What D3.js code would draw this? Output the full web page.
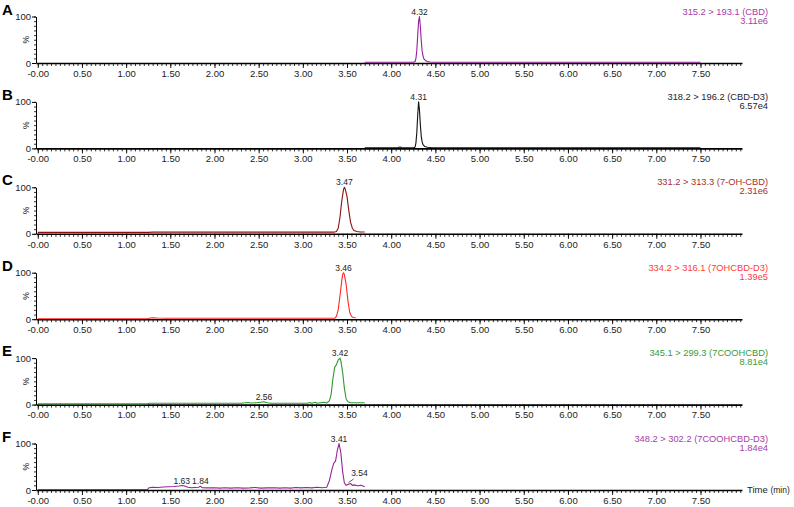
<!DOCTYPE html>
<html><head><meta charset="utf-8">
<script src="https://cdn.jsdelivr.net/npm/d3@7"></script>
<style>
body{margin:0;background:#fff}
svg{display:block}
text{font-family:"Liberation Sans",Arial,sans-serif}
</style>
</head><body>
<svg id="chart" width="794" height="507"></svg>
<script>
// ---------- data ----------
const panelLetters = ["A","B","C","D","E","F"];
const transitions = ["315.2 > 193.1 (CBD)","318.2 > 196.2 (CBD-D3)","331.2 > 313.3 (7-OH-CBD)","334.2 > 316.1 (7OHCBD-D3)","345.1 > 299.3 (7COOHCBD)","348.2 > 302.2 (7COOHCBD-D3)"];
const intensities = ["3.11e6","6.57e4","2.31e6","1.39e5","8.81e4","1.84e4"];
const lineColors = ["#9a1e9a","#111111","#8a1010","#ff2a2a","#2f9a2f","#9a229a"];
const textColors = ["#a83aa8","#222233","#a83030","#ff3a3a","#3a9a3a","#a83aa8"];
const xTickValues = [0,0.5,1,1.5,2,2.5,3,3.5,4,4.5,5,5.5,6,6.5,7,7.5];
const xTickLabels = ["-0.00","0.50","1.00","1.50","2.00","2.50","3.00","3.50","4.00","4.50","5.00","5.50","6.00","6.50","7.00","7.50"];
const yTickValues = [0,100];

const traceA = [[3.70,1.5],[3.90,1.5],[4.10,1.5],[4.25,1.5],[4.27,3],[4.28,10],[4.29,28],[4.30,60],[4.31,90],[4.32,100],[4.33,78],[4.34,48],[4.35,26],[4.36,15],[4.37,9],[4.39,5],[4.41,3],[4.44,2],[4.48,1.5],[5.00,1.5],[6.00,1.5],[7.00,1.5],[7.50,1.5]];
const traceB = [[3.70,1.5],[3.95,1.5],[4.08,1.8],[4.10,3],[4.12,2],[4.14,1.5],[4.26,1.5],[4.27,3],[4.28,12],[4.29,35],[4.30,72],[4.31,100],[4.32,82],[4.33,50],[4.34,26],[4.35,14],[4.36,8],[4.38,4],[4.41,2.5],[4.45,1.8],[4.60,1.5],[5.50,1.5],[7.50,1.5]];
const traceC = [[0,3],[0.5,3],[1.0,3],[1.25,3],[1.30,3.5],[2.0,3.5],[2.5,3.5],[3.0,3.5],[3.35,3.5],[3.38,5],[3.40,12],[3.42,35],[3.44,70],[3.46,95],[3.47,100],[3.48,96],[3.50,80],[3.52,50],[3.54,25],[3.56,12],[3.58,7],[3.61,5],[3.65,4],[3.70,4]];
const traceD = [[0,1],[1.0,1],[1.24,1],[1.27,2.5],[1.30,3],[1.35,2.5],[1.45,2],[2.0,2],[3.0,2],[3.36,2],[3.38,6],[3.40,20],[3.42,50],[3.44,82],[3.45,96],[3.46,100],[3.47,96],[3.49,75],[3.51,40],[3.53,15],[3.55,6],[3.57,3.5],[3.60,3]];
const traceE = [[0,1.5],[1.0,1.5],[1.24,1.5],[1.26,3],[1.6,3],[2.0,3],[2.3,3],[2.38,4.5],[2.42,3.5],[2.48,4],[2.52,5],[2.56,6],[2.60,4],[2.64,3],[2.8,3],[3.05,3],[3.08,4.5],[3.10,3],[3.14,5],[3.16,3],[3.20,4],[3.24,5],[3.27,3.5],[3.30,8],[3.32,22],[3.34,55],[3.36,80],[3.38,86],[3.40,96],[3.42,100],[3.43,94],[3.45,70],[3.47,35],[3.49,12],[3.51,6],[3.54,4],[3.60,4],[3.70,4]];
const traceF = [[0,1],[0.5,1],[1.0,1],[1.24,1],[1.26,5],[1.30,6],[1.36,5.5],[1.42,6.5],[1.48,7],[1.54,7.5],[1.60,8.5],[1.63,9.5],[1.66,8.5],[1.70,6],[1.74,5],[1.78,5.5],[1.82,6],[1.84,8],[1.86,5],[1.92,4.5],[2.00,5],[2.06,4],[2.12,5],[2.18,4],[2.26,5],[2.32,4],[2.40,4.5],[2.46,5.5],[2.52,4],[2.60,4.5],[2.68,5],[2.74,4],[2.80,5],[2.86,4],[2.92,5.5],[2.98,4.5],[3.04,5.5],[3.10,4.5],[3.16,6],[3.22,5],[3.27,6],[3.30,20],[3.33,45],[3.35,58],[3.37,62],[3.39,85],[3.41,100],[3.43,80],[3.45,40],[3.47,15],[3.49,10],[3.51,12],[3.54,14],[3.56,10],[3.58,11],[3.62,9],[3.66,10],[3.70,7]];
const traces = [traceA,traceB,traceC,traceD,traceE,traceF];

// peak annotations: [time, intensity, text, labelTime, labelIntensity] (leader when label offset)
const peaksA = [[4.32,100,"4.32"]];
const peaksB = [[4.31,100,"4.31"]];
const peaksC = [[3.47,100,"3.47"]];
const peaksD = [[3.46,100,"3.46"]];
const peaksE = [[3.42,100,"3.42"],[2.56,6,"2.56"]];
const peaksF = [[3.41,100,"3.41"],[1.63,9.5,"1.63"],[1.84,8,"1.84"],[3.54,14,"3.54",3.64,30]];
const peaks = [peaksA,peaksB,peaksC,peaksD,peaksE,peaksF];

// ---------- layout ----------
const svg = d3.select("#chart");
const x = d3.scaleLinear().domain([-0.02,7.97]).range([36,742]);
const firstBase = 63, step = 85.4, plotH = 46.5;
const minorX = d3.range(0,7.96,0.05);
const minorY = d3.range(0,101,10);

panelLetters.forEach((letter,i)=>{
  const base = firstBase + i*step;
  const y = d3.scaleLinear().domain([0,100]).range([base, base-plotH]);
  const g = svg.append("g");

  g.append("text").attr("x",2).attr("y",base-plotH-2)
    .attr("font-size",15).attr("font-weight","bold").text(letter);

  g.append("g").attr("transform",`translate(0,${base})`)
    .call(d3.axisBottom(x).tickValues(minorX).tickFormat("").tickSize(3).tickSizeOuter(0))
    .call(s=>s.select(".domain").remove())
    .call(s=>s.selectAll("line").attr("stroke","#000").attr("stroke-width",0.8));
  const xa = g.append("g").attr("transform",`translate(0,${base})`)
    .call(d3.axisBottom(x).tickValues(xTickValues).tickFormat((d,k)=>xTickLabels[k]).tickSize(5).tickSizeOuter(0).tickPadding(2));
  xa.select(".domain").attr("stroke","#000").attr("stroke-width",1.6);
  xa.selectAll("line").attr("stroke","#000").attr("stroke-width",0.9);
  xa.selectAll("text").attr("font-size",9.5).attr("fill","#222").attr("font-family","'Liberation Sans',Arial,sans-serif");

  g.append("g").attr("transform","translate(36,0)")
    .call(d3.axisLeft(y).tickValues(minorY).tickFormat("").tickSize(2).tickSizeOuter(0))
    .call(s=>s.select(".domain").remove())
    .call(s=>s.selectAll("line").attr("stroke","#000").attr("stroke-width",0.8));
  const ya = g.append("g").attr("transform","translate(36,0)")
    .call(d3.axisLeft(y).tickValues(yTickValues).tickFormat(d3.format("d")).tickSize(4).tickSizeOuter(0).tickPadding(1));
  ya.select(".domain").attr("stroke","#000").attr("stroke-width",1);
  ya.selectAll("line").attr("stroke","#000");
  ya.selectAll("text").attr("font-size",9.5).attr("fill","#222").attr("font-family","'Liberation Sans',Arial,sans-serif");
  g.append("text").attr("transform",`translate(29,${y(50)}) rotate(-90)`)
    .attr("text-anchor","middle").attr("font-size",8.5).attr("fill","#222").text("%");

  const line = d3.line().x(d=>x(d[0])).y(d=>y(d[1]));
  g.append("path").datum(traces[i]).attr("d",line)
    .attr("fill","none").attr("stroke",lineColors[i]).attr("stroke-width",1.1).attr("stroke-linejoin","round");

  peaks[i].forEach(p=>{
    if (p.length > 3) {
      g.append("line").attr("x1",x(p[0])-2).attr("y1",y(p[1])-1).attr("x2",x(p[0])+3).attr("y2",y(p[4])+3)
        .attr("stroke","#333").attr("stroke-width",0.8);
      g.append("text").attr("x",x(p[3])).attr("y",y(p[4])).attr("text-anchor","middle")
        .attr("font-size",8.5).attr("fill","#222").text(p[2]);
    } else {
      g.append("text").attr("x",x(p[0])).attr("y",y(p[1])-2).attr("text-anchor","middle")
        .attr("font-size",8.5).attr("fill","#222").text(p[2]);
    }
  });

  g.append("text").attr("x",768).attr("y",base-plotH-2).attr("text-anchor","end")
    .attr("font-size",9.3).attr("fill",textColors[i]).text(transitions[i]);
  g.append("text").attr("x",768).attr("y",base-plotH+7).attr("text-anchor","end")
    .attr("font-size",9.3).attr("fill",textColors[i]).text(intensities[i]);
});

const lastBase = firstBase + 5*step;
const tt = svg.append("text").attr("x",747).attr("y",lastBase+3).attr("fill","#222");
tt.append("tspan").attr("font-size",9.5).text("Time ");
tt.append("tspan").attr("font-size",8.5).text("(min)");
</script>
</body></html>
